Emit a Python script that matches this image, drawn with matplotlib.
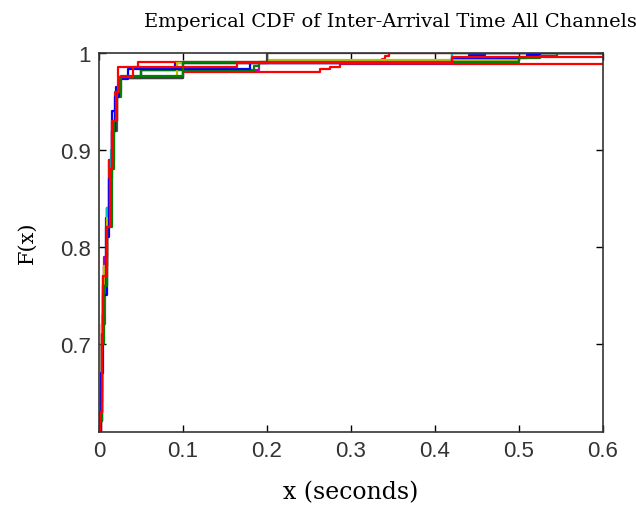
#!/usr/bin/env python3
"""
Empirical CDF of inter-arrival time, all channels (MATLAB-style figure)
"""

import matplotlib
matplotlib.use('Agg')
import matplotlib.pyplot as plt

# Step breakpoints: x (seconds) and F(x) for each channel
channel_x = [
    [0.0, 0.002, 0.004, 0.006, 0.010, 0.014, 0.017, 0.021, 0.024, 0.10, 0.263, 0.275, 0.287],
    [0.0, 0.001, 0.004, 0.007, 0.010, 0.014, 0.018, 0.021, 0.025, 0.05, 0.19, 0.45],
    [0.0, 0.001, 0.003, 0.005, 0.008, 0.012, 0.016, 0.020, 0.024, 0.05, 0.09, 0.42, 0.44, 0.46],
    [0.0, 0.001, 0.003, 0.005, 0.009, 0.013, 0.017, 0.021, 0.026, 0.05, 0.185, 0.19, 0.42],
    [0.0, 0.002, 0.004, 0.006, 0.009, 0.012, 0.016, 0.019, 0.023, 0.047, 0.337, 0.341, 0.345],
    [0.0, 0.002, 0.003, 0.006, 0.010, 0.014, 0.017, 0.020, 0.024, 0.10, 0.42],
    [0.0, 0.002, 0.004, 0.006, 0.009, 0.013, 0.017, 0.020, 0.024, 0.093, 0.20, 0.50, 0.525],
    [0.0, 0.001, 0.003, 0.005, 0.008, 0.013, 0.016, 0.020, 0.025, 0.10, 0.20],
    [0.0, 0.001, 0.002, 0.005, 0.009, 0.012, 0.016, 0.019, 0.024, 0.035, 0.18, 0.42, 0.51, 0.525],
    [0.0, 0.001, 0.003, 0.006, 0.010, 0.015, 0.018, 0.022, 0.026, 0.10, 0.50, 0.525, 0.545],
    [0.0, 0.001, 0.003, 0.005, 0.009, 0.013, 0.016, 0.020, 0.024, 0.04, 0.164, 0.42],
]
channel_F = [
    [0.59, 0.65, 0.72, 0.79, 0.84, 0.89, 0.93, 0.96, 0.974, 0.980, 0.983, 0.986, 0.989],
    [0.58, 0.63, 0.72, 0.79, 0.84, 0.89, 0.93, 0.96, 0.974, 0.982, 0.990, 1.0],
    [0.58, 0.62, 0.70, 0.77, 0.83, 0.89, 0.94, 0.965, 0.975, 0.982, 0.990, 0.995, 0.998, 1.0],
    [0.55, 0.63, 0.71, 0.76, 0.82, 0.88, 0.92, 0.955, 0.975, 0.982, 0.987, 0.991, 1.0],
    [0.57, 0.64, 0.72, 0.78, 0.84, 0.89, 0.93, 0.96, 0.986, 0.991, 0.994, 0.997, 1.0],
    [0.59, 0.65, 0.71, 0.78, 0.84, 0.90, 0.93, 0.96, 0.974, 0.990, 1.0],
    [0.60, 0.66, 0.73, 0.78, 0.83, 0.88, 0.92, 0.955, 0.975, 0.990, 0.993, 0.996, 1.0],
    [0.56, 0.62, 0.70, 0.76, 0.82, 0.88, 0.92, 0.96, 0.974, 0.990, 1.0],
    [0.57, 0.61, 0.67, 0.75, 0.81, 0.87, 0.92, 0.955, 0.973, 0.983, 0.990, 0.995, 0.998, 1.0],
    [0.55, 0.62, 0.70, 0.76, 0.82, 0.88, 0.93, 0.96, 0.976, 0.991, 0.995, 0.997, 1.0],
    [0.58, 0.63, 0.71, 0.77, 0.82, 0.88, 0.93, 0.96, 0.975, 0.986, 0.990, 0.996],
]
channel_colors = [
    (1, 0, 0), (0.75, 0, 0.75), (0, 0, 1), (0, 0.5, 0), (1, 0, 0), (0, 0.75, 0.75),
    (0.75, 0.75, 0), (0.25, 0.25, 0.25), (0, 0, 1), (0, 0.5, 0), (1, 0, 0),
]

x_ticks = [0, 0.1, 0.2, 0.3, 0.4, 0.5, 0.6]
x_tick_labels = ['0', '0.1', '0.2', '0.3', '0.4', '0.5', '0.6']
y_ticks = [0.7, 0.8, 0.9, 1.0]
y_tick_labels = ['0.7', '0.8', '0.9', '1']

fig = plt.figure(figsize=(6.36, 5.06), dpi=100)
ax = fig.add_axes([99 / 636, 1 - 433 / 506, 504 / 636, 379 / 506])

for xs, fs, col in zip(channel_x, channel_F, channel_colors):
    xs = list(xs) + [0.6]
    fs = list(fs) + [fs[-1]]
    ax.step(xs, fs, where='post', color=col, linewidth=1.6)

ax.set_xlim(0, 0.6)
ax.set_ylim(0.609, 1.0)
ax.set_xticks(x_ticks)
ax.set_xticklabels(x_tick_labels)
ax.set_yticks(y_ticks)
ax.set_yticklabels(y_tick_labels)
ax.tick_params(direction='in', length=5, width=1, top=True, right=True,
               labelsize=16, pad=6)
for lab in ax.get_xticklabels() + ax.get_yticklabels():
    lab.set_family('Liberation Sans')
    lab.set_color('#333333')
for sp in ax.spines.values():
    sp.set_linewidth(1.2)
    sp.set_color('#333333')

fig.text(390 / 636, 1 - 22 / 506, 'Emperical CDF of Inter-Arrival Time All Channels',
         ha='center', va='center', family='DejaVu Serif', fontsize=14)
fig.text(351 / 636, 1 - 493 / 506, 'x (seconds)', ha='center', va='center',
         family='DejaVu Serif', fontsize=17)
fig.text(27 / 636, 1 - 243 / 506, 'F(x)', ha='center', va='center', rotation=90,
         family='DejaVu Serif', fontsize=15)

fig.savefig('out.png', dpi=100, facecolor='white')
